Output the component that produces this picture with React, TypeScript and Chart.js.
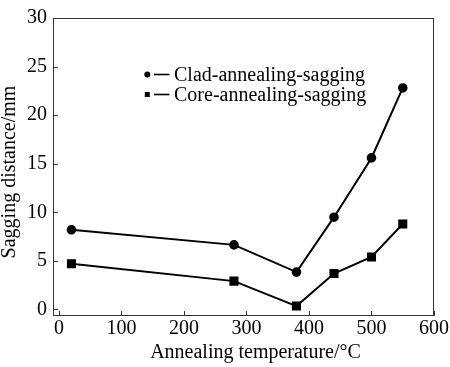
import { useEffect, useRef } from "react";
import { Chart, registerables } from "chart.js";

Chart.register(...registerables);

const temperatures = [20, 280, 380, 440, 500, 550];
const cladSagging = [8.2, 6.65, 3.85, 9.5, 15.6, 22.8];
const coreSagging = [4.7, 2.92, 0.35, 3.7, 5.4, 8.8];
const seriesLabels = ["Clad-annealing-sagging", "Core-annealing-sagging"];
const xTickValues = [0, 100, 200, 300, 400, 500, 600];
const yTickValues = [0, 5, 10, 15, 20, 25, 30];
const xTitle = "Annealing temperature/°C";
const yTitle = "Sagging distance/mm";

const FONT = '"Liberation Serif", "Times New Roman", serif';

const framePlugin = {
  id: "frameAndTicks",
  afterDraw(chart: any) {
    const { ctx, chartArea } = chart;
    const { left, right, top, bottom } = chartArea;
    const xs = chart.scales.x;
    const ys = chart.scales.y;
    ctx.save();
    ctx.strokeStyle = "#333";
    ctx.lineWidth = 1;
    ctx.strokeRect(left + 0.5, top + 0.5, right - left - 1, bottom - top - 1);
    ctx.beginPath();
    for (const v of xTickValues) {
      const px = Math.round(xs.getPixelForValue(v)) + 0.5;
      ctx.moveTo(px, bottom);
      ctx.lineTo(px, bottom - 5);
    }
    for (const v of yTickValues) {
      const py = Math.round(ys.getPixelForValue(v)) + 0.5;
      ctx.moveTo(left, py);
      ctx.lineTo(left + 5, py);
    }
    ctx.stroke();

    // axis titles
    ctx.fillStyle = "#000";
    ctx.font = `20px ${FONT}`;
    ctx.textAlign = "center";
    ctx.textBaseline = "alphabetic";
    ctx.fillText(xTitle, (left + right) / 2 + 12, 358);
    ctx.save();
    ctx.translate(15, (top + bottom) / 2 + 5);
    ctx.rotate(-Math.PI / 2);
    ctx.fillText(yTitle, 0, 0);
    ctx.restore();

    // legend
    ctx.font = `20px ${FONT}`;
    ctx.textAlign = "left";
    ctx.textBaseline = "middle";
    chart.data.datasets.forEach((ds: any, i: number) => {
      const cy = 74.5 + i * 20;
      ctx.fillStyle = "#000";
      if (ds.pointStyle === "rect") {
        ctx.fillRect(144.8, cy - 2.5, 5, 5);
      } else {
        ctx.beginPath();
        ctx.arc(147.3, cy, 3, 0, Math.PI * 2);
        ctx.fill();
      }
      ctx.strokeStyle = "#000";
      ctx.lineWidth = 1.6;
      ctx.beginPath();
      ctx.moveTo(154, cy);
      ctx.lineTo(169.5, cy);
      ctx.stroke();
      ctx.fillText(ds.label, 174, cy + 1);
    });
    ctx.restore();
  },
};

export default function App() {
  const ref = useRef<HTMLCanvasElement>(null);
  useEffect(() => {
    document.body.style.margin = "0";
    const canvas = ref.current!;
    const chart = new Chart(canvas, {
      type: "line",
      data: {
        datasets: [
          {
            label: seriesLabels[0],
            data: temperatures.map((t, i) => ({ x: t, y: cladSagging[i] })),
            borderColor: "#000",
            backgroundColor: "#000",
            borderWidth: 2,
            pointStyle: "circle",
            pointRadius: 3.8,
            pointHoverRadius: 3.8,
            tension: 0,
          },
          {
            label: seriesLabels[1],
            data: temperatures.map((t, i) => ({ x: t, y: coreSagging[i] })),
            borderColor: "#000",
            backgroundColor: "#000",
            borderWidth: 2,
            pointStyle: "rect",
            pointRadius: 5,
            pointHoverRadius: 5,
            tension: 0,
          },
        ],
      },
      options: {
        responsive: false,
        animation: false,
        layout: { padding: { top: 7, right: 11, left: 0, bottom: 0 } },
        plugins: { legend: { display: false }, tooltip: { enabled: false } },
        scales: {
          x: {
            type: "linear",
            min: -9.5,
            max: 600,
            afterBuildTicks: (s: any) => {
              s.ticks = xTickValues.map((v) => ({ value: v }));
            },
            afterFit: (s: any) => {
              s.height = 51;
            },
            grid: { display: false, drawTicks: false },
            border: { display: false },
            ticks: {
              color: "#000",
              font: { family: FONT, size: 20 },
              padding: 1,
              maxRotation: 0,
              autoSkip: false,
            },
          },
          y: {
            type: "linear",
            min: -0.67,
            max: 30,
            afterBuildTicks: (s: any) => {
              s.ticks = yTickValues.map((v) => ({ value: v }));
            },
            afterFit: (s: any) => {
              s.width = 53;
            },
            grid: { display: false, drawTicks: false },
            border: { display: false },
            ticks: {
              color: "#000",
              font: { family: FONT, size: 20 },
              padding: 6,
              autoSkip: false,
            },
          },
        },
      },
      plugins: [framePlugin],
    });
    return () => chart.destroy();
  }, []);
  return (
    <div style={{ position: "fixed", left: 0, top: 0, width: 450, height: 367, background: "#fff" }}>
      <canvas ref={ref} width={450} height={367} />
    </div>
  );
}
